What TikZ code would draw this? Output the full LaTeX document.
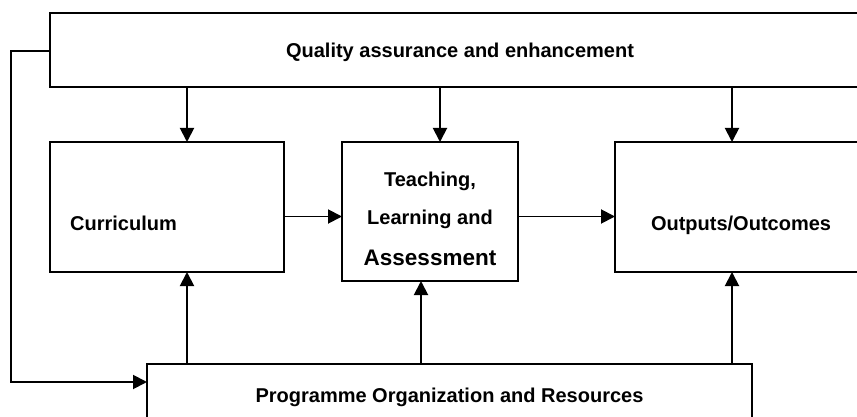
\documentclass[tikz,border=0pt]{standalone}
\usepackage{fontspec}
\setmainfont{Liberation Sans}
\usetikzlibrary{arrows.meta}

\tikzset{
  box/.style={draw, line width=1.9pt, inner sep=0pt, outer sep=0pt,
    font=\bfseries\fontsize{20}{24}\selectfont},
  lbl/.style={inner sep=0pt, font=\bfseries\fontsize{20}{24}\selectfont},
  arr/.style={line width=1.9pt, -{Triangle[length=14pt,width=14pt]}},
}

\begin{document}
\begin{tikzpicture}[x=1pt, y=-1pt]
  \useasboundingbox (0,0) rectangle (857,417);
  \clip (0,0) rectangle (857,417);

  % Boxes
  \node[box, text depth=0pt, minimum width=820pt, minimum height=74pt] (qa) at (460,50) {Quality assurance and enhancement};
  \node[box, minimum width=234pt, minimum height=130pt] (curr) at (167,207) {};
  \node[box, minimum width=176pt, minimum height=139pt] (tla) at (430,211.5) {};
  \node[box, minimum width=252pt, minimum height=130pt] (out) at (741,207) {};
  \node[box, minimum width=605pt, minimum height=66pt] (por) at (449.5,397) {Programme Organization and Resources};

  % Labels inside the middle row
  \node[lbl, anchor=base west] (currtxt) at ([xshift=20pt,yshift=-23pt]curr.west) {Curriculum};
  \node[lbl, anchor=base] (outtxt) at ([yshift=-23pt]out.center) {Outputs/Outcomes};
  \node[lbl, align=center] (tlatxt) at ([yshift=-7.5pt]tla.center)
    {Teaching,\\[14pt]Learning and\\[17pt]{\fontsize{22.5}{27}\selectfont Assessment}};

  % Quality assurance feeds down
  \foreach \b/\dx in {curr/20, tla/10, out/-9} {
    \coordinate (\b-in) at ([xshift=\dx pt]\b.north);
    \draw[arr] (qa.south -| \b-in) -- (\b-in);
  }
  % Resources feed up
  \foreach \b/\dx in {curr/20, tla/-9, out/-9} {
    \coordinate (\b-up) at ([xshift=\dx pt]\b.south);
    \draw[arr] (por.north -| \b-up) -- (\b-up);
  }

  % Flow across
  \draw[arr] ([yshift=-9.5pt]curr.east) -- ([yshift=-9.5pt]curr.east -| tla.west);
  \draw[arr] ([yshift=-5pt]tla.east) -- ([yshift=-5pt]tla.east -| out.west);

  % Feedback loop
  \draw[arr] ([yshift=-1pt]qa.west) -- ++(-39,0) |- ([yshift=-18pt]por.north west);
\end{tikzpicture}
\end{document}
